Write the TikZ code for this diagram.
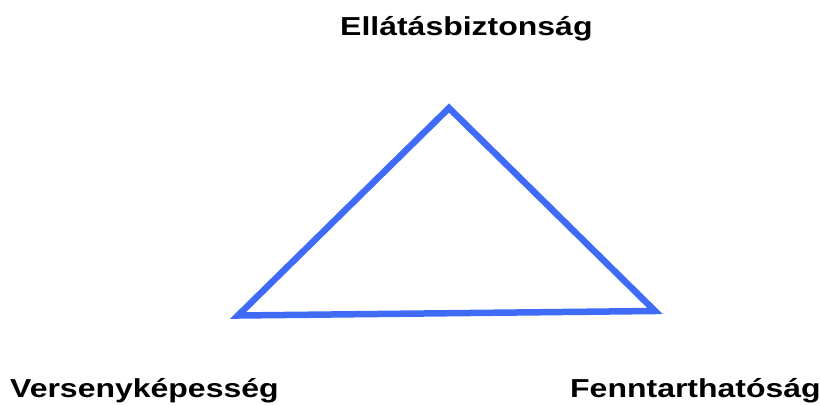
\documentclass[tikz,border=0pt]{standalone}
\usepackage{fontspec}
\setmainfont{Liberation Sans}
\definecolor{triblue}{HTML}{3F6BF7}
\begin{document}
\begin{tikzpicture}[x=1pt,y=-1pt,
  lbl/.style={inner sep=0pt,font=\bfseries\fontsize{26}{30}\selectfont},
  tri/.style={draw=triblue,line width=6.5pt,line join=miter}]
\useasboundingbox (0,0) rectangle (820,405);
\coordinate (top) at (449,108);
\coordinate (left) at (238,315.5);
\coordinate (right) at (655,311);
\draw[tri] (top) -- (left) -- (right) -- cycle;
\node[lbl,anchor=base west] (t1) at (340,35) {\scalebox{1.23}[1]{Ellátásbiztonság}};
\node[lbl,anchor=base west] (t2) at (10,397) {\scalebox{1.23}[1]{Versenyképesség}};
\node[lbl,anchor=base west] (t3) at (570,397) {\scalebox{1.23}[1]{Fenntarthatóság}};
\end{tikzpicture}
\end{document}
